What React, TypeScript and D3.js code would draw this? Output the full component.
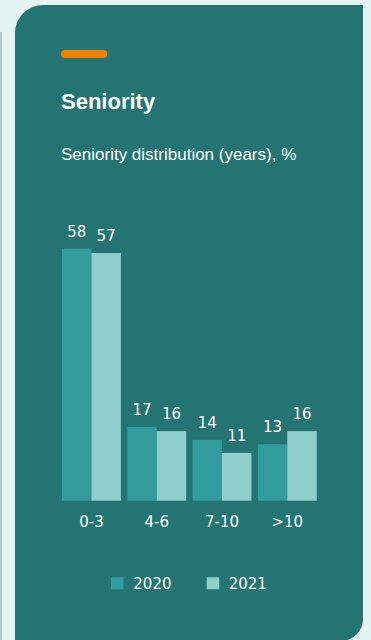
import React from "react";
import * as d3 from "d3";

const categories = ["0-3", "4-6", "7-10", ">10"];
const series = ["2020", "2021"];
const values2020 = [58, 17, 14, 13];
const values2021 = [57, 16, 11, 16];

const W = 371;
const H = 640;
const COLORS = { bg: "#e6f3f3", card: "#247473", s2020: "#339c9c", s2021: "#8fd0cf", orange: "#f08000", text: "#ffffff" };
const NUM_FONT = "'DejaVu Sans', sans-serif";
const TXT_FONT = "'Liberation Sans', Arial, sans-serif";

export default function App() {
  const x0 = d3.scaleBand<string>().domain(categories).range([62, 316.7]).paddingInner(0.098).paddingOuter(0);
  const x1 = d3.scaleBand<string>().domain(series).range([0, x0.bandwidth()]).padding(0);
  const y = d3.scaleLinear().domain([0, 58]).range([500.7, 248.7]);
  const color = d3.scaleOrdinal<string, string>().domain(series).range([COLORS.s2020, COLORS.s2021]);

  const data = categories.map((c, i) => ({ c, vals: [values2020[i], values2021[i]] }));

  // card path: top-left radius 28, bottom-right radius 22
  const cx0 = 15, cy0 = 5, cx1 = 363, cy1 = 641;
  const p = d3.path();
  p.moveTo(cx0 + 28, cy0);
  p.lineTo(cx1, cy0);
  p.lineTo(cx1, cy1 - 22);
  p.arcTo(cx1, cy1, cx1 - 22, cy1, 22);
  p.lineTo(cx0, cy1);
  p.lineTo(cx0, cy0 + 28);
  p.arcTo(cx0, cy0, cx0 + 28, cy0, 28);
  p.closePath();

  const legendItems = [
    { s: "2020", sx: 111, tx: 133.3 },
    { s: "2021", sx: 206.7, tx: 228.7 },
  ];

  return (
    <svg width={W} height={H} style={{ position: "absolute", left: 0, top: 0, display: "block" }}>
      <rect x={0} y={0} width={W} height={H} fill={COLORS.bg} />
      <rect x={0} y={32} width={2} height={H - 32} fill="#a3cccc" />
      <path d={p.toString()} fill={COLORS.card} />
      <rect x={61} y={50} width={46.3} height={8} rx={4} fill={COLORS.orange} />
      <text x={61} y={109} fill={COLORS.text} fontFamily={TXT_FONT} fontWeight="bold" fontSize={22}>Seniority</text>
      <text x={61} y={159.5} fill={COLORS.text} fontFamily={TXT_FONT} fontSize={17}>Seniority distribution (years), %</text>

      {data.map((d) => (
        <g key={d.c} transform={`translate(${x0(d.c)},0)`}>
          {series.map((s, j) => (
            <g key={s}>
              <rect x={x1(s)} y={y(d.vals[j])} width={x1.bandwidth()} height={y(0) - y(d.vals[j])} fill={color(s)} />
              <text x={(x1(s) as number) + x1.bandwidth() / 2} y={y(d.vals[j]) - 12} textAnchor="middle" fill={COLORS.text} fontFamily={NUM_FONT} fontSize={15}>{d.vals[j]}</text>
            </g>
          ))}
          <text x={x0.bandwidth() / 2} y={526.7} textAnchor="middle" fill={COLORS.text} fontFamily={NUM_FONT} fontSize={15}>{d.c}</text>
        </g>
      ))}

      {legendItems.map((l) => (
        <g key={l.s}>
          <rect x={l.sx} y={577.3} width={12.5} height={12} fill={color(l.s)} />
          <text x={l.tx} y={589} fill={COLORS.text} fontFamily={NUM_FONT} fontSize={15}>{l.s}</text>
        </g>
      ))}
    </svg>
  );
}
